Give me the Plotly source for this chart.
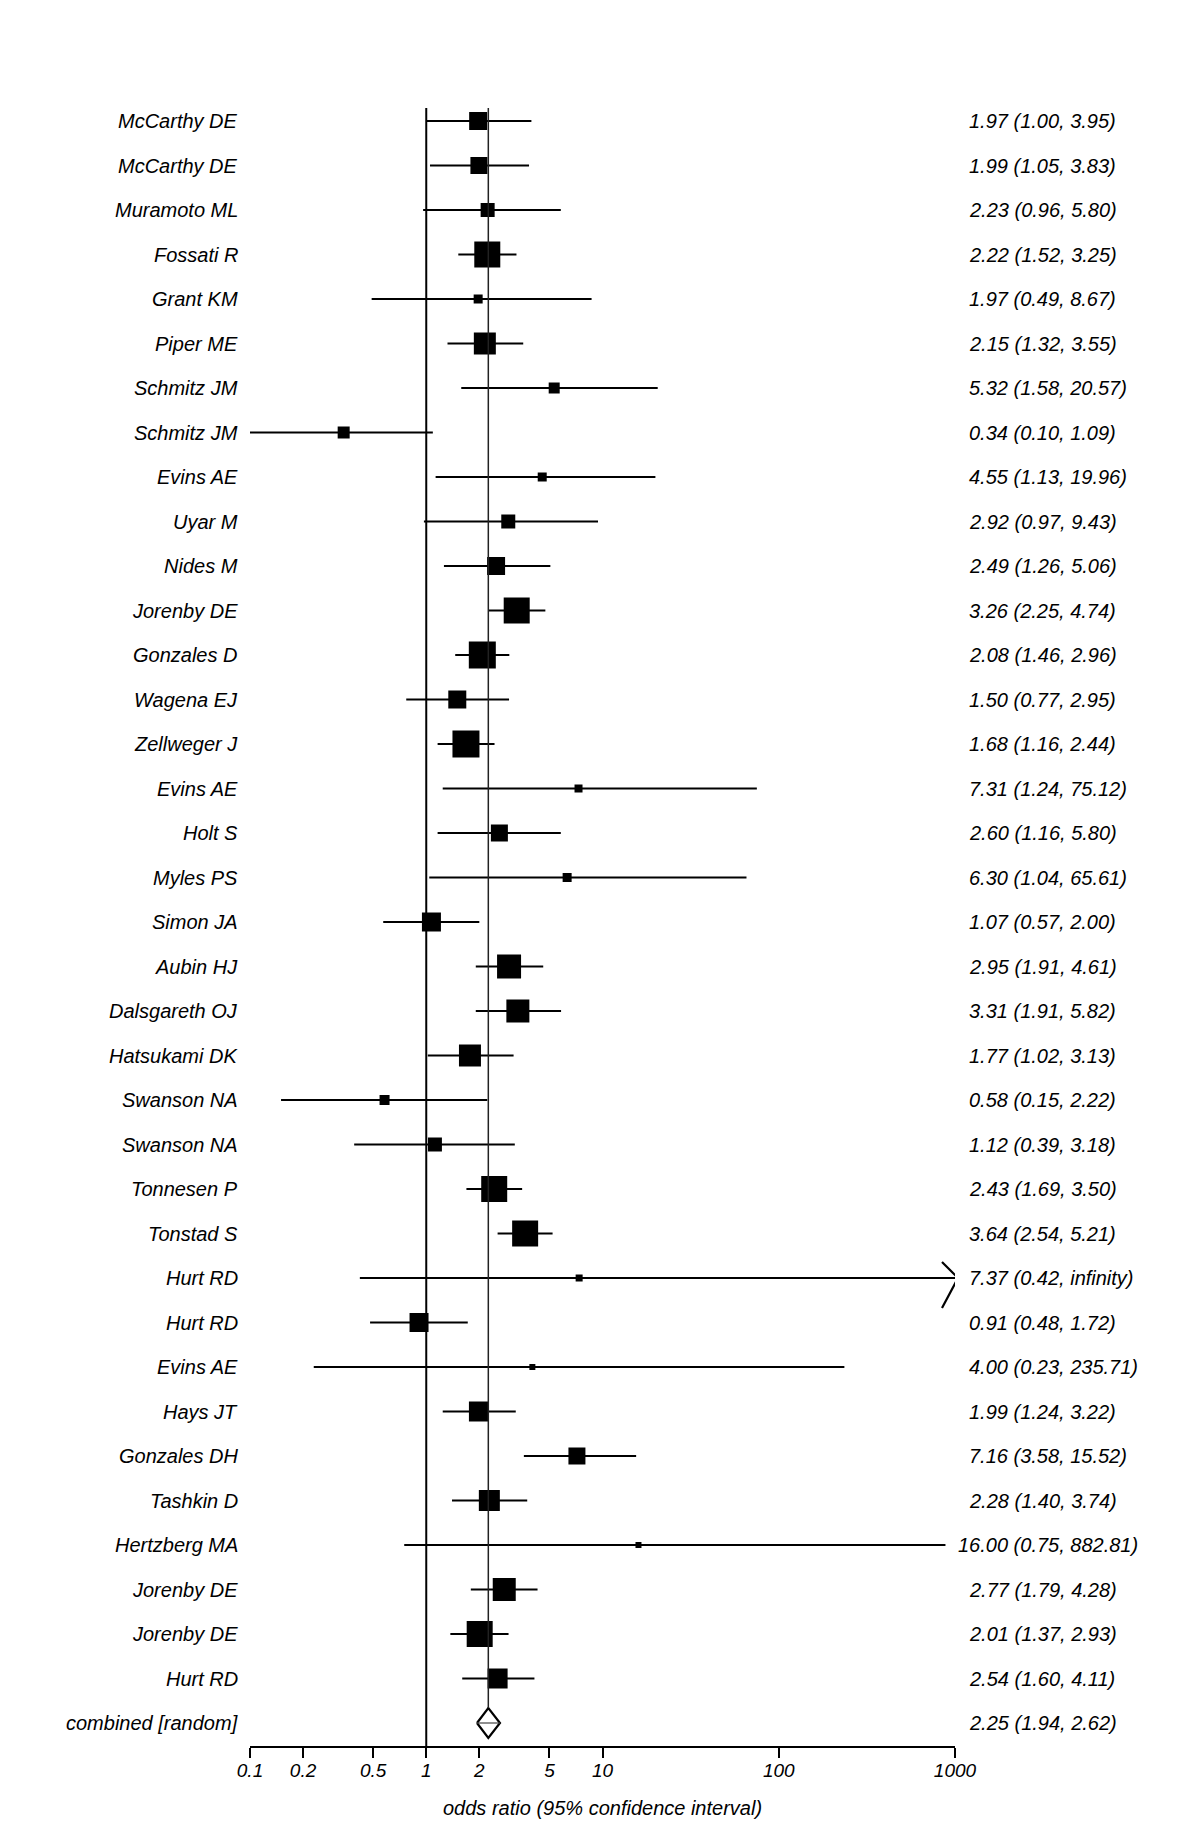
import math
import plotly.graph_objects as go

# ---------------- data ----------------
studies = [
    "McCarthy DE", "McCarthy DE", "Muramoto ML", "Fossati R", "Grant KM", "Piper ME",
    "Schmitz JM", "Schmitz JM", "Evins AE", "Uyar M", "Nides M", "Jorenby DE",
    "Gonzales D", "Wagena EJ", "Zellweger J", "Evins AE", "Holt S", "Myles PS",
    "Simon JA", "Aubin HJ", "Dalsgareth OJ", "Hatsukami DK", "Swanson NA", "Swanson NA",
    "Tonnesen P", "Tonstad S", "Hurt RD", "Hurt RD", "Evins AE", "Hays JT",
    "Gonzales DH", "Tashkin D", "Hertzberg MA", "Jorenby DE", "Jorenby DE", "Hurt RD",
]
odds_ratio = [1.97, 1.99, 2.23, 2.22, 1.97, 2.15, 5.32, 0.34, 4.55, 2.92, 2.49, 3.26,
              2.08, 1.50, 1.68, 7.31, 2.60, 6.30, 1.07, 2.95, 3.31, 1.77, 0.58, 1.12,
              2.43, 3.64, 7.37, 0.91, 4.00, 1.99, 7.16, 2.28, 16.00, 2.77, 2.01, 2.54]
ci_low = [1.00, 1.05, 0.96, 1.52, 0.49, 1.32, 1.58, 0.10, 1.13, 0.97, 1.26, 2.25,
          1.46, 0.77, 1.16, 1.24, 1.16, 1.04, 0.57, 1.91, 1.91, 1.02, 0.15, 0.39,
          1.69, 2.54, 0.42, 0.48, 0.23, 1.24, 3.58, 1.40, 0.75, 1.79, 1.37, 1.60]
ci_high = [3.95, 3.83, 5.80, 3.25, 8.67, 3.55, 20.57, 1.09, 19.96, 9.43, 5.06, 4.74,
           2.96, 2.95, 2.44, 75.12, 5.80, 65.61, 2.00, 4.61, 5.82, 3.13, 2.22, 3.18,
           3.50, 5.21, math.inf, 1.72, 235.71, 3.22, 15.52, 3.74, 882.81, 4.28, 2.93, 4.11]
# study weight (pixels)
weight_px = [18, 17, 14, 26, 9, 22, 11, 12, 9, 14, 18, 26,
             27, 18, 27, 8, 17, 9, 19, 24, 23, 22, 10, 14,
             26, 26, 7, 19, 6, 20, 17, 21, 6, 23, 26, 20]

combined_label = "combined [random]"
combined_or, combined_low, combined_high = 2.25, 1.94, 2.62

tick_values = [0.1, 0.2, 0.5, 1, 2, 5, 10, 100, 1000]
tick_labels = ["0.1", "0.2", "0.5", "1", "2", "5", "10", "100", "1000"]
x_title = "odds ratio (95% confidence interval)"

# ---------------- layout constants ----------------
# the page body adds an 8px margin around the figure
W, H = 1184, 1832
ML, MR, MT, MB = 242, 237, 100, 94
XMIN, XMAX = -1.0, 3.0
ROW_PX = 44.5
plot_h = H - MT - MB
span = plot_h / ROW_PX
top_off = (113 - MT) / ROW_PX
y_top = -top_off
y_bottom = span - top_off
px_per_dec = (W - ML - MR) / (XMAX - XMIN)

FONT = "Liberation Sans, Arial, sans-serif"
lg = math.log10
n = len(studies)
rows = list(range(n))
comb_row = n

fig = go.Figure()

# CI lines
xs, ys = [], []
for i in rows:
    hi = min(lg(ci_high[i]), XMAX) if math.isfinite(ci_high[i]) else XMAX
    xs += [lg(ci_low[i]), hi, None]
    ys += [i, i, None]
fig.add_trace(go.Scatter(x=xs, y=ys, mode="lines",
                         line=dict(color="black", width=1.8), hoverinfo="skip"))

# arrow for infinite upper limit
for i in rows:
    if not math.isfinite(ci_high[i]):
        dx_l = 13 / px_per_dec
        dx_t = 3 / px_per_dec
        fig.add_trace(go.Scatter(
            x=[XMAX - dx_l, XMAX + dx_t, XMAX - dx_l],
            y=[i - 16 / ROW_PX, i, i + 30 / ROW_PX],
            mode="lines", line=dict(color="black", width=2.2),
            hoverinfo="skip", cliponaxis=False))

# squares
fig.add_trace(go.Scatter(
    x=[lg(v) for v in odds_ratio], y=rows, mode="markers",
    marker=dict(symbol="square", size=weight_px, color="black", opacity=1,
                line=dict(width=0)),
    hoverinfo="skip"))

# combined diamond
dh = 15 / ROW_PX
fig.add_trace(go.Scatter(
    x=[lg(combined_low), lg(combined_or), lg(combined_high), lg(combined_or), lg(combined_low)],
    y=[comb_row, comb_row - dh, comb_row, comb_row + dh, comb_row],
    mode="lines", line=dict(color="black", width=2.2), hoverinfo="skip"))
fig.add_trace(go.Scatter(
    x=[lg(combined_low), lg(combined_high)], y=[comb_row, comb_row],
    mode="lines", line=dict(color="#444444", width=1.2), hoverinfo="skip"))

shapes = [
    # null line at OR = 1
    dict(type="line", xref="x", yref="y", x0=0, x1=0, y0=y_top, y1=y_bottom,
         line=dict(color="black", width=2)),
    # pooled estimate line
    dict(type="line", xref="x", yref="y", x0=lg(combined_or), x1=lg(combined_or),
         y0=y_top, y1=comb_row - dh, line=dict(color="#222222", width=1.5)),
]

annotations = []
all_names = studies + [combined_label]
all_or = odds_ratio + [combined_or]
all_lo = ci_low + [combined_low]
all_hi = ci_high + [combined_high]
digit_w = 11.1
for i, name in enumerate(all_names):
    annotations.append(dict(
        xref="paper", yref="y", x=0, y=i, xanchor="right", yanchor="middle",
        xshift=-10, text=name, showarrow=False,
        font=dict(family=FONT, size=20, color="black", style="italic")))
    hi_txt = "infinity" if not math.isfinite(all_hi[i]) else f"{all_hi[i]:.2f}"
    txt = f"{all_or[i]:.2f} ({all_lo[i]:.2f}, {hi_txt})"
    int_digits = len(str(int(all_or[i])))
    annotations.append(dict(
        xref="paper", yref="y", x=1, y=i, xanchor="left", yanchor="middle",
        xshift=12 - (int_digits - 1) * digit_w, text=txt, showarrow=False,
        font=dict(family=FONT, size=20, color="black", style="italic")))

annotations.append(dict(
    xref="paper", yref="paper", x=0.5, y=0, xanchor="center", yanchor="middle",
    yshift=-62, text=x_title, showarrow=False,
    font=dict(family=FONT, size=20, color="black", style="italic")))

fig.update_layout(
    width=W, height=H, autosize=False,
    margin=dict(l=ML, r=MR, t=MT, b=MB, pad=0),
    paper_bgcolor="white", plot_bgcolor="white",
    showlegend=False, hovermode=False,
    shapes=shapes, annotations=annotations,
    xaxis=dict(range=[XMIN, XMAX], showgrid=False, zeroline=False,
               showline=True, linecolor="black", linewidth=2,
               ticks="outside", ticklen=10, tickwidth=1.5, tickcolor="black",
               tickvals=[lg(v) for v in tick_values], ticktext=tick_labels,
               ticklabelstandoff=-4,
               tickfont=dict(family=FONT, size=19, color="black", style="italic"),
               fixedrange=True),
    yaxis=dict(range=[y_bottom, y_top], visible=False, showgrid=False,
               zeroline=False, fixedrange=True),
)

fig.write_html("out.html")
